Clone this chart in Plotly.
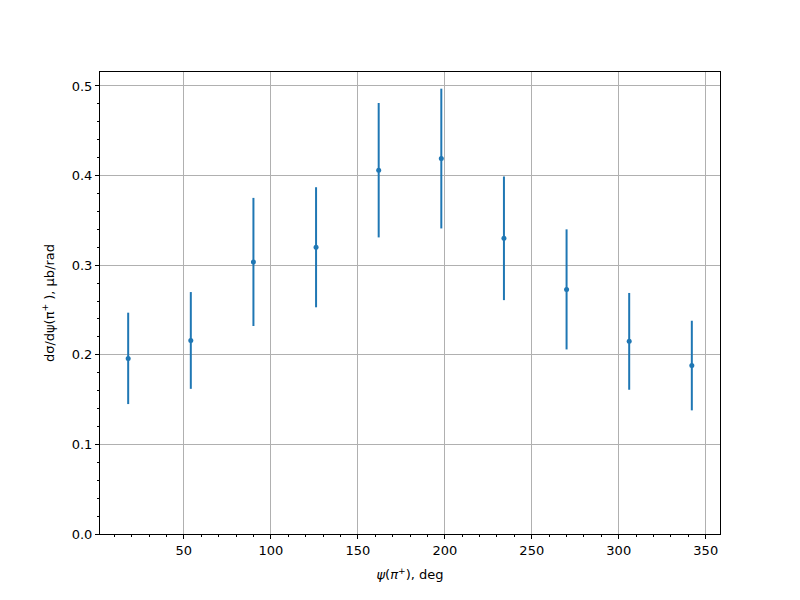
import plotly.graph_objects as go

psi = [18, 54, 90, 126, 162, 198, 234, 270, 306, 342]
dsig = [0.196, 0.216, 0.3036, 0.320, 0.406, 0.419, 0.330, 0.273, 0.215, 0.188]
err = [0.051, 0.054, 0.0715, 0.067, 0.075, 0.078, 0.069, 0.067, 0.054, 0.050]

x_ticks = [50, 100, 150, 200, 250, 300, 350]
y_ticks = [0.0, 0.1, 0.2, 0.3, 0.4, 0.5]

color = "#1f77b4"
fig = go.Figure()
fig.add_trace(go.Scatter(
    x=psi, y=dsig, mode="markers",
    marker=dict(color=color, size=5),
    error_y=dict(type="data", array=err, visible=True, color=color, thickness=2, width=0),
    showlegend=False,
))

font = dict(family="DejaVu Sans", size=13, color="black")
axis_common = dict(
    showline=True, linecolor="black", linewidth=1, mirror=True,
    ticks="outside", ticklen=4, tickcolor="black", tickwidth=1,
    showgrid=True, gridcolor="#b0b0b0", gridwidth=1,
    zeroline=False, tickfont=font,
)
fig.update_xaxes(
    range=[1.8, 358.2], tickvals=x_ticks, ticktext=[str(v) for v in x_ticks],
    minor=dict(dtick=10, tick0=0, ticks="outside", ticklen=2, tickcolor="black", showgrid=False),
    title=dict(text="<i>ψ</i>(<i>π</i><sup>+</sup>), deg", font=font, standoff=13),
    **axis_common,
)
fig.update_yaxes(
    range=[0, 0.5156], tickvals=y_ticks, ticktext=[f"{v:.1f}" for v in y_ticks],
    minor=dict(dtick=0.02, tick0=0, ticks="outside", ticklen=2, tickcolor="black", showgrid=False),
    title=dict(text="dσ/dψ(π<sup>+</sup> ), μb/rad", font=font, standoff=14),
    **axis_common,
)
fig.update_layout(
    width=800, height=600,
    margin=dict(l=92, r=88, t=64, b=74),
    paper_bgcolor="white", plot_bgcolor="white",
    font=font,
)
fig.write_html("out.html")
